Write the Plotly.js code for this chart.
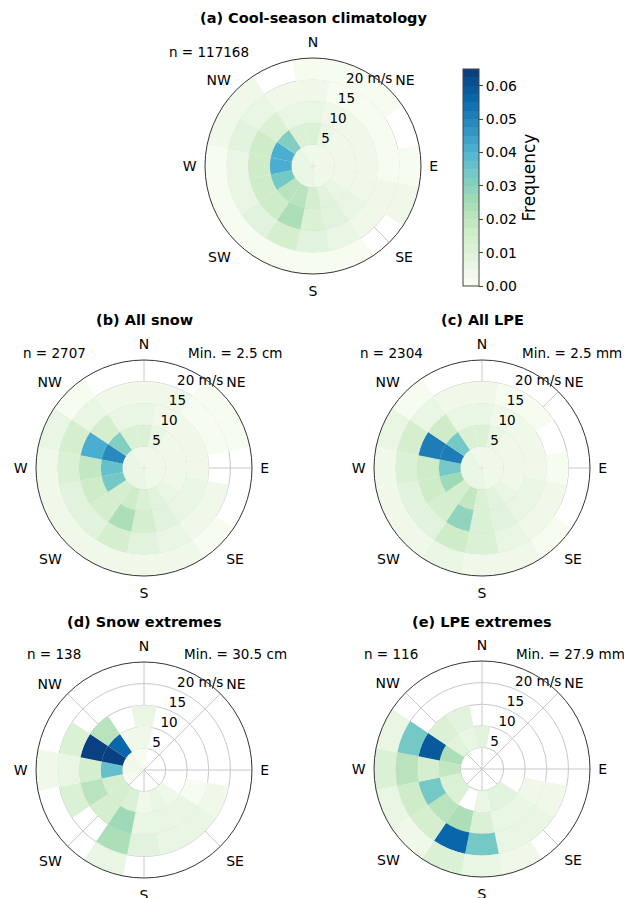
<!DOCTYPE html>
<html><head><meta charset="utf-8">
<script src="https://cdn.plot.ly/plotly-3.0.1.min.js"></script>
<style>html,body{margin:0;padding:0;background:#fff}</style>
</head><body><div id="chart" style="width:624px;height:898px"></div>
<script>
// ---- data ----
const directions = ['N','NNE','NE','ENE','E','ESE','SE','SSE','S','SSW','SW','WSW','W','WNW','NW','NNW'];
const directionDeg = [0,22.5,45,67.5,90,112.5,135,157.5,180,202.5,225,247.5,270,292.5,315,337.5];
const speedLower = [0,5,10,15,20];   // m/s, bins 0-5,5-10,10-15,15-20,20-25
const speedBinWidth = 5;

// frequency per [speed bin][direction]
const freqCoolSeason = [
  [0.004,0.003,0.003,0.003,0.003,0.003,0.003,0.004,0.005,0.006,0.007,0.007,0.007,0.006,0.005,0.004],
  [0.012,0.006,0.004,0.003,0.003,0.004,0.005,0.008,0.013,0.022,0.020,0.034,0.041,0.040,0.032,0.012],
  [0.006,0.004,0.003,0.003,0.003,0.004,0.006,0.008,0.012,0.024,0.016,0.017,0.016,0.017,0.010,0.006],
  [0.003,0.002,0.002,0.002,0.002,0.003,0.004,0.006,0.008,0.014,0.008,0.007,0.007,0.008,0.005,0.003],
  [0.001,0.001,0.001,0,0.001,0.004,0,0.002,0.002,0.002,0.002,0.002,0.002,0.003,0.004,0]
];
const freqAllSnow = [
  [0.004,0.003,0.003,0.003,0.003,0.003,0.004,0.004,0.005,0.006,0.006,0.006,0.006,0.006,0.005,0.004],
  [0.010,0.005,0.004,0.004,0.004,0.004,0.005,0.008,0.012,0.016,0.014,0.033,0.036,0.048,0.032,0.012],
  [0.006,0.004,0.003,0.003,0.004,0.005,0.006,0.008,0.014,0.024,0.013,0.016,0.018,0.042,0.014,0.006],
  [0.003,0.003,0.002,0.001,0,0.004,0.004,0.006,0.008,0.014,0.008,0.008,0.010,0.014,0.005,0.003],
  [0,0,0.001,0.001,0,0,0.002,0.003,0.003,0.004,0.003,0.003,0.003,0.005,0.001,0]
];
const freqAllLPE = [
  [0.004,0.003,0.003,0.003,0.003,0.003,0.004,0.004,0.005,0.006,0.006,0.006,0.006,0.006,0.005,0.004],
  [0.010,0.005,0.004,0.004,0.004,0.004,0.005,0.008,0.012,0.018,0.014,0.026,0.034,0.050,0.034,0.012],
  [0.006,0.004,0.003,0.003,0.004,0.005,0.006,0.008,0.012,0.028,0.013,0.016,0.016,0.050,0.016,0.006],
  [0.003,0.002,0.002,0,0.002,0.004,0.004,0.006,0.010,0.016,0.008,0.008,0.010,0.014,0.006,0.003],
  [0,0,0,0,0,0,0.002,0.004,0.003,0.005,0.003,0.003,0.003,0.005,0.001,0]
];
const freqSnowExtremes = [
  [0.002,0,0,0,0,0,0,0,0,0,0,0.002,0.003,0.003,0.003,0.002],
  [0.004,0,0,0,0,0,0.004,0.005,0.004,0.012,0.014,0.014,0.036,0.065,0.056,0.004],
  [0.006,0,0,0,0,0.002,0.006,0.007,0.006,0.027,0.014,0.020,0.014,0.065,0.022,0],
  [0,0,0,0,0,0.004,0.006,0.007,0.008,0.024,0,0.012,0.005,0.012,0,0],
  [0,0,0,0,0,0,0,0,0,0.006,0,0,0.004,0,0,0]
];
const freqLPEExtremes = [
  [0,0,0,0,0,0,0,0,0,0,0,0,0,0,0,0],
  [0.008,0,0,0,0,0,0.008,0.008,0.005,0,0.010,0.012,0.018,0.024,0.008,0.006],
  [0,0,0,0,0,0.003,0.006,0.006,0.012,0.024,0.022,0.034,0.014,0.058,0.012,0.008],
  [0,0,0,0,0,0.004,0.005,0.006,0.034,0.055,0.014,0.016,0.020,0.034,0,0],
  [0,0,0,0,0,0,0,0.003,0.005,0.012,0.004,0.005,0.012,0.005,0,0]
];

const panelTitles = ['(a) Cool-season climatology','(b) All snow','(c) All LPE','(d) Snow extremes','(e) LPE extremes'];
const panelCounts = ['n = 117168','n = 2707','n = 2304','n = 138','n = 116'];
const panelMins = ['','Min. = 2.5 cm','Min. = 2.5 mm','Min. = 30.5 cm','Min. = 27.9 mm'];
const angTickVals = [0,45,90,135,180,225,270,315];
const angTickText = ['N','NE','E','SE','S','SW','W','NW'];
const radTickVals = [5,10,15,20];
const radTickText = ['5','10','15','20 m/s'];
const cbarTicks = [0,0.01,0.02,0.03,0.04,0.05,0.06];
const freqMax = 0.065;

// ---- style / layout ----
const W = 624, H = 898, R = 108;
const FONT = 'DejaVu Sans, sans-serif';
const RLABEL_BEARING = 22.5;
const centers = [[313,166],[144,468],[482,468],[144,770],[482,769]];
const titleY = [18,320,320,622,622];
const countPos = [[209,52],[54,353],[391,353],[54,654],[391,654]];
const minPos = [[0,0],[235,353],[572,353],[235,654],[570,654]];

const gnbuStops = [[247,252,240],[224,243,219],[204,235,197],[168,221,181],[123,204,196],[78,179,211],[43,140,190],[8,104,172],[8,64,129]];
function gnbu(t){
  const s = t*(gnbuStops.length-1); const i = Math.min(Math.floor(s), gnbuStops.length-2); const f = s-i;
  const a = gnbuStops[i], b = gnbuStops[i+1];
  return 'rgb('+a.map((v,k)=>Math.round(v+(b[k]-v)*f)).join(',')+')';
}
const NLEV = 26; const colorscale = [];
for (let i=0;i<NLEV;i++){ const c = gnbu(i/(NLEV-1)); colorscale.push([i/NLEV,c]); colorscale.push([(i+1)/NLEV,c]); }

const datasets = [freqCoolSeason, freqAllSnow, freqAllLPE, freqSnowExtremes, freqLPEExtremes];
const traces = []; const labelTraces = [];
const layout = {width:W, height:H, margin:{l:0,r:0,t:0,b:0}, paper_bgcolor:'#fff', showlegend:false, annotations:[], font:{family:FONT, color:'#000'}};

datasets.forEach((ds, p) => {
  const theta=[], r=[], base=[], col=[];
  ds.forEach((row, si) => row.forEach((v, di) => {
    if (v > 0) { theta.push(directionDeg[di]); r.push(speedBinWidth); base.push(speedLower[si]); col.push(v); }
  }));
  const key = p===0 ? 'polar' : 'polar'+(p+1);
  const tr = {type:'barpolar', subplot:key, theta, r, base, width:22.5,
    marker:{color:col, colorscale, cmin:0, cmax:freqMax, line:{width:0}, showscale:p===0},
    hoverinfo:'skip'};
  if (p===0) {
    tr.marker.colorbar = {x:463/W, xanchor:'left', xpad:0, ypad:0, y:1-69/H, yanchor:'top', len:217, lenmode:'pixels',
      thickness:16, thicknessmode:'pixels', outlinecolor:'#444', outlinewidth:1, ticks:'outside', ticklen:4,
      tickvals:cbarTicks, tickformat:'.2f', tickfont:{size:14, family:FONT},
      title:{text:'Frequency', side:'right', font:{size:17, family:FONT}}};
  }
  traces.push(tr);
  labelTraces.push({type:'scatterpolar', subplot:key, mode:'text', r:radTickVals, theta:radTickVals.map(()=>RLABEL_BEARING),
    text:radTickText, textposition:'top right', textfont:{size:13.5, family:FONT, color:'#000'}, hoverinfo:'skip', cliponaxis:false});
  const [cx, cy] = centers[p];
  layout[key] = {
    domain:{x:[(cx-R)/W,(cx+R)/W], y:[1-(cy+R)/H, 1-(cy-R)/H]},
    bgcolor:'#fff', bargap:0, barmode:'overlay', layer:'above traces',
    angularaxis:{rotation:90, direction:'clockwise', tickmode:'array', tickvals:angTickVals, ticktext:angTickText,
      showline:true, linecolor:'#333', linewidth:1, gridcolor:'#c8c8c8', gridwidth:1,
      ticks:'outside', ticklen:5, tickcolor:'rgba(0,0,0,0)', tickfont:{size:14, family:FONT, color:'#000'}},
    radialaxis:{range:[0,25], tickmode:'array', tickvals:radTickVals, showticklabels:false,
      showline:false, gridcolor:'#c8c8c8', gridwidth:1, ticks:''}
  };
  layout.annotations.push({text:'<b>'+panelTitles[p]+'</b>', xref:'paper', yref:'paper', x:cx/W, y:1-titleY[p]/H,
    xanchor:'center', yanchor:'middle', showarrow:false, font:{size:14.5, family:FONT}});
  layout.annotations.push({text:panelCounts[p], xref:'paper', yref:'paper', x:countPos[p][0]/W, y:1-countPos[p][1]/H,
    xanchor:'center', yanchor:'middle', showarrow:false, font:{size:13.5, family:FONT}});
  if (panelMins[p]) layout.annotations.push({text:panelMins[p], xref:'paper', yref:'paper', x:minPos[p][0]/W, y:1-minPos[p][1]/H,
    xanchor:'center', yanchor:'middle', showarrow:false, font:{size:13.5, family:FONT}});
});

Plotly.newPlot('chart', traces.concat(labelTraces), layout, {displayModeBar:false, staticPlot:true});
</script></body></html>
